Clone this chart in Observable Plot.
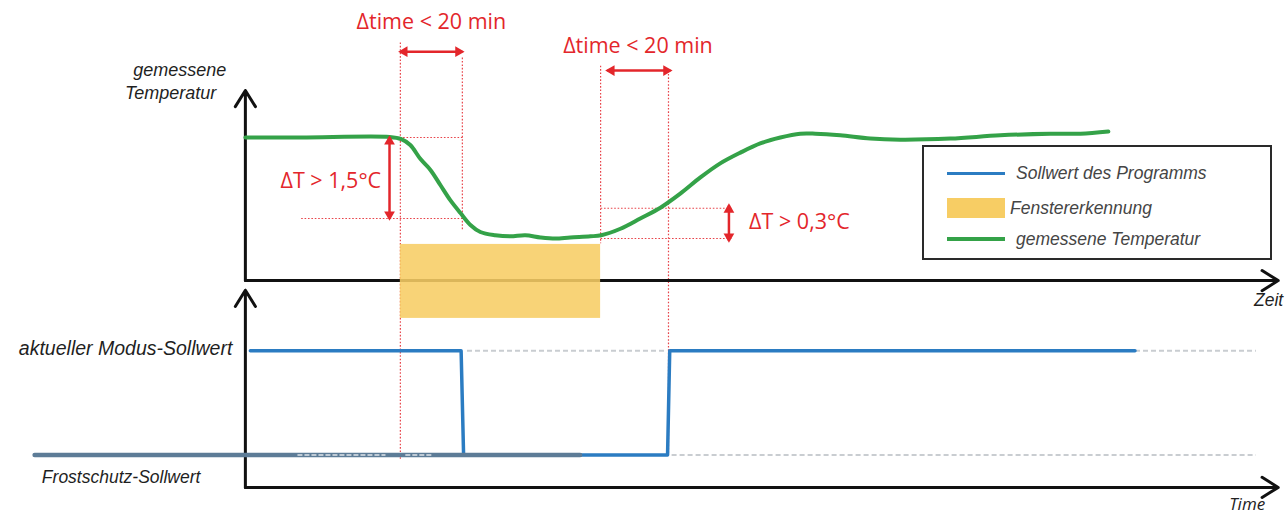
<!DOCTYPE html>
<html><head><meta charset="utf-8">
<script src="https://cdn.jsdelivr.net/npm/d3@7"></script>
<script src="https://cdn.jsdelivr.net/npm/@observablehq/plot@0.6"></script>
<style>
html,body{margin:0;padding:0;background:#fff;}
#wrap{position:relative;width:1287px;height:514px;overflow:hidden;}
#legend{position:absolute;left:922px;top:145px;width:350px;height:115px;box-sizing:border-box;border:2px solid #2a2a2a;background:#fff;font-family:"Liberation Sans",Arial,sans-serif;font-style:italic;font-size:17.5px;color:#454545;}
#legend .k{position:absolute;}
#legend .t{position:absolute;line-height:20px;white-space:nowrap;}
</style></head><body><div id="wrap"></div>
<script>
// ---- data (minutes on x, °C / diagram levels on y) ----
const tempTime  = [0, 18, 46.5, 50.3, 53.2, 56.5, 59.7, 62.9, 66.1, 69.4, 72.6, 75.8, 80.6, 85.5, 90.3, 95.2, 100, 104.8, 111.3, 114.8, 121, 127.4, 133.9, 140.3, 146.8, 153.2, 159.7, 166.1, 172.6, 179, 183.9, 191.9, 201.6, 211.3, 227.4, 243.5, 259.7, 269.4, 278.4];
const tempValue = [21, 21, 21.01, 20.97, 20.86, 20.6, 20.4, 20.12, 19.84, 19.6, 19.38, 19.25, 19.19, 19.17, 19.19, 19.15, 19.13, 19.15, 19.17, 19.19, 19.31, 19.5, 19.7, 19.96, 20.26, 20.52, 20.72, 20.89, 21.0, 21.07, 21.07, 21.04, 20.98, 20.96, 20.98, 21.04, 21.07, 21.07, 21.11];

const setpointTime  = [1.6, 69.6, 70.4, 136.2, 136.9, 287];
const setpointState = ["modus", "modus", "frost", "frost", "modus", "modus"];
const frostLineTime = [-68, 108];
const ghostModus = [[71.5, 136], [287, 326]];
const ghostFrost = [[137.5, 326]];

const windowOpen = 50, setpointDrop = 70, windowClose = 114.6, setpointRise = 136.5;
const tempDrop = [21, 19.5];          // ΔT > 1,5 °C
const tempRise = [19.13, 19.69];      // ΔT > 0,3 °C

const labelsRed = ["Δtime < 20 min", "Δtime < 20 min", "ΔT > 1,5°C", "ΔT > 0,3°C"];
const labelsAxis = ["gemessene", "Temperatur", "aktueller Modus-Sollwert", "Frostschutz-Sollwert", "Zeit", "Time"];
const legendLabels = ["Sollwert des Programms", "Fenstererkennung", "gemessene Temperatur"];

// ---- layout in diagram units ----
const level = {modus: 17.05, frost: 15.12};
const topAxisY = 18.35, topTipY = 21.87, botAxisY = 14.52, botTipY = 18.17, axisEnd = 333.2;
const bandY = [17.65, 19.02];

const RED = "#e3262b", BLUE = "#2b7cc2", FROST = "#5d7c97", GREEN = "#34a248", YELLOW = "#f7cd64";

const temp = tempTime.map((t, i) => ({t, v: tempValue[i]}));
const step = setpointTime.map((t, i) => ({t, v: level[setpointState[i]]}));
const frost = frostLineTime.map(t => ({t, v: level.frost}));
const ghosts = [...ghostModus.map(([a, b]) => ({x1: a, x2: b, y: level.modus})), ...ghostFrost.map(([a, b]) => ({x1: a, x2: b, y: level.frost}))];

const axes = [
  {x1: 0, y1: topAxisY, x2: 0, y2: topTipY},
  {x1: 0, y1: topAxisY, x2: axisEnd, y2: topAxisY},
  {x1: 0, y1: botAxisY, x2: 0, y2: botTipY},
  {x1: 0, y1: botAxisY, x2: axisEnd, y2: botAxisY}
];

const dotted = [
  {x1: windowOpen, y1: 22.76, x2: windowOpen, y2: 15.02},
  {x1: setpointDrop, y1: 22.48, x2: setpointDrop, y2: 19.28},
  {x1: windowClose, y1: 22.33, x2: windowClose, y2: 19.04},
  {x1: setpointRise, y1: 22.24, x2: setpointRise, y2: 15.11},
  {x1: 46.5, y1: tempDrop[0], x2: setpointDrop, y2: tempDrop[0]},
  {x1: 18, y1: tempDrop[1], x2: setpointDrop, y2: tempDrop[1]},
  {x1: windowClose, y1: tempRise[1], x2: 157, y2: tempRise[1]},
  {x1: windowClose, y1: tempRise[0], x2: 157, y2: tempRise[0]}
];

const hArrows = [
  {x1: windowOpen, x2: setpointDrop, y: 22.59},
  {x1: 116.8, x2: setpointRise + 0.6, y: 22.24}
];
const vArrows = [
  {x: 46.5, y1: tempDrop[0], y2: tempDrop[1]},
  {x: 156, y1: 19.74, y2: 19.09}
];

const redMid = [
  {x: (windowOpen + setpointDrop) / 2, y: 23.13, text: labelsRed[0]},
  {x: (116.8 + setpointRise) / 2, y: 22.69, text: labelsRed[1]}
];
const redEnd = [{x: 43.8, y: 20.2, text: labelsRed[2]}];
const redStart = [{x: 162.5, y: 19.44, text: labelsRed[3]}];

const blackFont = {fontFamily: "Liberation Sans", fontStyle: "italic", fill: "#1f1f1f"};
const redFont = {fontFamily: "Open Sans", fontSize: 21.5, fill: RED};

const chart = Plot.plot({
  width: 1287, height: 514, margin: 0,
  x: {domain: [-79, 336.2], axis: null},
  y: {domain: [14.0185, 23.537], axis: null},
  style: {background: "#fff", overflow: "visible"},
  marks: [
    // ghost dashed setpoint lines
    Plot.link(ghosts, {x1: "x1", x2: "x2", y1: "y", y2: "y", stroke: "#c9cdd1", strokeWidth: 2, strokeDasharray: "5,3"}),
    // red dotted guides
    Plot.link(dotted, {x1: "x1", y1: "y1", x2: "x2", y2: "y2", stroke: "#e8444a", strokeWidth: 1.2, strokeDasharray: "1.6,1.8"}),
    // axes
    Plot.arrow(axes, {x1: "x1", y1: "y1", x2: "x2", y2: "y2", stroke: "#111", strokeWidth: 3, headLength: 9.5, headAngle: 64, strokeLinejoin: "round"}),
    // window detection band
    Plot.rect([{x1: windowOpen, x2: windowClose, y1: bandY[0], y2: bandY[1]}], {x1: "x1", x2: "x2", y1: "y1", y2: "y2", fill: YELLOW, fillOpacity: 0.88}),
    // setpoint
    Plot.line(step, {x: "t", y: "v", stroke: BLUE, strokeWidth: 3.5}),
    Plot.line(frost, {x: "t", y: "v", stroke: FROST, strokeWidth: 4.5}),
    Plot.link([{a: 16.8, b: 45.2}, {a: 51.6, b: 60.3}], {x1: "a", x2: "b", y1: () => level.frost, y2: () => level.frost, stroke: "#fff", strokeWidth: 1.6, strokeDasharray: "5,2", strokeOpacity: 0.8}),
    // temperature
    Plot.line(temp, {x: "t", y: "v", curve: "catmull-rom", stroke: GREEN, strokeWidth: 4}),
    // red double arrows
    Plot.link(hArrows, {x1: "x1", x2: "x2", y1: "y", y2: "y", stroke: RED, strokeWidth: 2.5}),
    Plot.link(vArrows, {x1: "x", x2: "x", y1: "y1", y2: "y2", stroke: RED, strokeWidth: 2.5}),
    Plot.dot(hArrows, {x: "x2", y: "y", symbol: "triangle", r: 4, fill: RED, rotate: 90, dx: -4}),
    Plot.dot(hArrows, {x: "x1", y: "y", symbol: "triangle", r: 4, fill: RED, rotate: -90, dx: 4}),
    Plot.dot(vArrows, {x: "x", y: "y1", symbol: "triangle", r: 4, fill: RED, rotate: 0, dy: 4}),
    Plot.dot(vArrows, {x: "x", y: "y2", symbol: "triangle", r: 4, fill: RED, rotate: 180, dy: -4}),
    // red labels
    Plot.text(redMid, {x: "x", y: "y", text: "text", textAnchor: "middle", ...redFont}),
    Plot.text(redEnd, {x: "x", y: "y", text: "text", textAnchor: "end", ...redFont}),
    Plot.text(redStart, {x: "x", y: "y", text: "text", textAnchor: "start", ...redFont}),
    // black axis labels
    Plot.text([{x: 0, y: topTipY}], {x: "x", y: "y", text: () => labelsAxis[0], textAnchor: "end", dx: -19, dy: -20, fontSize: 18, ...blackFont}),
    Plot.text([{x: 0, y: topTipY}], {x: "x", y: "y", text: () => labelsAxis[1], textAnchor: "end", dx: -29, dy: 3, fontSize: 18, ...blackFont}),
    Plot.text([{x: 0, y: level.modus}], {x: "x", y: "y", text: () => labelsAxis[2], textAnchor: "end", dx: -13, dy: -2, fontSize: 19.5, ...blackFont}),
    Plot.text([{x: 0, y: level.frost}], {x: "x", y: "y", text: () => labelsAxis[3], textAnchor: "end", dx: -45, dy: 22, fontSize: 17.5, ...blackFont}),
    Plot.text([{x: axisEnd, y: topAxisY}], {x: "x", y: "y", text: () => labelsAxis[4], textAnchor: "end", dx: 5, dy: 20, fontSize: 17.5, ...blackFont}),
    Plot.text([{x: axisEnd, y: botAxisY}], {x: "x", y: "y", text: () => labelsAxis[5], textAnchor: "end", dx: -13, dy: 17, fontFamily: "Open Sans", fontStyle: "italic", fontSize: 17, fill: "#222"})
  ]
});

const wrap = document.getElementById("wrap");
wrap.appendChild(chart);
chart.style.position = "absolute"; chart.style.left = "0"; chart.style.top = "0";

// legend overlay
const lg = document.createElement("div");
lg.id = "legend";
const keys = [
  {color: BLUE, h: 3},
  {color: YELLOW, h: 20},
  {color: GREEN, h: 4}
];
const rows = [28, 63, 94];
const textLeft = [94, 88, 94];
keys.forEach((k, i) => {
  const s = document.createElement("div");
  s.className = "k";
  s.style.cssText = `left:23px;top:${rows[i] - k.h / 2 - 2}px;width:58px;height:${k.h}px;background:${k.color};`;
  lg.appendChild(s);
  const t = document.createElement("div");
  t.className = "t";
  t.style.left = (textLeft[i] - 2) + "px";
  t.style.top = (rows[i] - 12) + "px";
  t.textContent = legendLabels[i];
  lg.appendChild(t);
});
wrap.appendChild(lg);
</script>
</body></html>
